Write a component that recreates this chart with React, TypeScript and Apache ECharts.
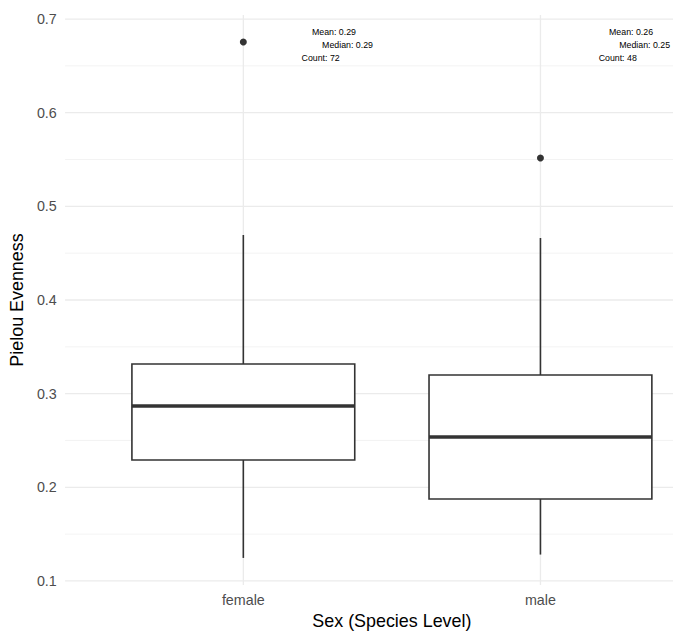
import React, { useEffect, useRef } from "react";
import * as echarts from "echarts";

// ---- data ----
const categories = ["female", "male"];
// [lower whisker, Q1, median, Q3, upper whisker]
const boxFemale = [0.1246, 0.2292, 0.2868, 0.3317, 0.4694];
const boxMale = [0.1282, 0.1876, 0.2537, 0.3199, 0.4662];
const outlierFemale = [0.6754];
const outlierMale = [0.5516];
const meanLabels = ["Mean: 0.29", "Mean: 0.26"];
const medianLabels = ["Median: 0.29", "Median: 0.25"];
const countLabels = ["Count: 72", "Count: 48"];
const yMajorTicks = [0.1, 0.2, 0.3, 0.4, 0.5, 0.6, 0.7];
const yMinorTicks = [0.15, 0.25, 0.35, 0.45, 0.55, 0.65];

const FONT = "'Liberation Sans', Arial, Helvetica, sans-serif";
const Y_MIN = 0.0957;
const Y_MAX = 0.7043;
const EXPAND = 0.6; // ggplot discrete expansion (band units)
const BOX_W = 0.75;

export default function App() {
  const ref = useRef<HTMLDivElement>(null);

  useEffect(() => {
    if (!ref.current) return;
    const chart = echarts.init(ref.current, undefined, { renderer: "svg" });

    const boxes = [boxFemale, boxMale];
    const boxData = boxes.map((b, i) => [i, ...b]);
    const outlierData: number[][] = [];
    outlierFemale.forEach((v) => outlierData.push([0, v]));
    outlierMale.forEach((v) => outlierData.push([1, v]));

    const gridData: any[] = [];
    yMajorTicks.forEach((v) => gridData.push([0, v, 1]));
    yMinorTicks.forEach((v) => gridData.push([0, v, 0]));
    categories.forEach((_, i) => gridData.push([i, Y_MIN, 2]));

    const annotData: any[] = [];
    categories.forEach((_, i) => {
      annotData.push([i + 0.305, 0.6861, meanLabels[i]]);
      annotData.push([i + 0.3507, 0.6722, medianLabels[i]]);
      annotData.push([i + 0.2601, 0.6583, countLabels[i]]);
    });

    const option: any = {
      animation: false,
      backgroundColor: "#fff",
      textStyle: { fontFamily: FONT },
      grid: { left: 93, top: 15, width: 596, bottom: 52 },
      xAxis: {
        type: "category",
        data: categories,
        boundaryGap: true,
        axisLine: { show: false },
        axisTick: { show: false },
        splitLine: { show: false },
        axisLabel: { color: "#4D4D4D", fontSize: 14.3, margin: 8, fontFamily: FONT },
        name: "Sex (Species Level)",
        nameLocation: "middle",
        nameGap: 25,
        nameTextStyle: { color: "#000", fontSize: 17.9, fontFamily: FONT },
      },
      yAxis: {
        type: "value",
        min: Y_MIN,
        max: Y_MAX,
        axisLine: { show: false },
        axisTick: { show: false },
        splitLine: { show: false },
        axisLabel: {
          color: "#4D4D4D",
          fontSize: 14.3,
          margin: 38,
          fontFamily: FONT,
          formatter: (v: number) =>
            Math.abs(v * 10 - Math.round(v * 10)) < 1e-6 ? v.toFixed(1) : "",
        },
        name: "Pielou Evenness",
        nameLocation: "middle",
        nameGap: 53,
        nameTextStyle: { color: "#000", fontSize: 17.9, fontFamily: FONT },
      },
      series: [
        {
          type: "custom",
          z: 0,
          silent: true,
          clip: false,
          data: gridData,
          encode: { x: 0, y: 1 },
          renderItem: (params: any, api: any) => {
            const kind = api.value(2);
            const band = api.size([1, 0])[0];
            const cs = params.coordSys;
            if (kind === 2) {
              const p = api.coord([api.value(0), Y_MIN]);
              return {
                type: "line",
                shape: { x1: p[0], y1: cs.y, x2: p[0], y2: cs.y + cs.height },
                style: { stroke: "#EBEBEB", lineWidth: 1.3 },
              };
            }
            const y = api.coord([0, api.value(1)])[1];
            const x1 = api.coord([0, api.value(1)])[0] - EXPAND * band;
            const x2 = api.coord([categories.length - 1, api.value(1)])[0] + EXPAND * band;
            return {
              type: "line",
              shape: { x1, y1: y, x2, y2: y },
              style: { stroke: kind === 1 ? "#EBEBEB" : "#F0F0F0", lineWidth: kind === 1 ? 1.3 : 0.8 },
            };
          },
        },
        {
          type: "custom",
          z: 2,
          data: boxData,
          encode: { x: 0, y: [1, 2, 3, 4, 5] },
          renderItem: (params: any, api: any) => {
            const i = api.value(0);
            const band = api.size([1, 0])[0];
            const half = (BOX_W * band) / 2;
            const lo = api.coord([i, api.value(1)]);
            const q1 = api.coord([i, api.value(2)]);
            const med = api.coord([i, api.value(3)]);
            const q3 = api.coord([i, api.value(4)]);
            const hi = api.coord([i, api.value(5)]);
            const cx = lo[0];
            const stroke = "#333333";
            return {
              type: "group",
              children: [
                {
                  type: "line",
                  shape: { x1: cx, y1: hi[1], x2: cx, y2: q3[1] },
                  style: { stroke, lineWidth: 1.6 },
                },
                {
                  type: "line",
                  shape: { x1: cx, y1: q1[1], x2: cx, y2: lo[1] },
                  style: { stroke, lineWidth: 1.6 },
                },
                {
                  type: "rect",
                  shape: { x: cx - half, y: q3[1], width: 2 * half, height: q1[1] - q3[1] },
                  style: { fill: "#fff", stroke, lineWidth: 1.6 },
                },
                {
                  type: "line",
                  shape: { x1: cx - half, y1: med[1], x2: cx + half, y2: med[1] },
                  style: { stroke, lineWidth: 3.4 },
                },
              ],
            };
          },
        },
        {
          type: "scatter",
          z: 3,
          data: outlierData,
          symbol: "circle",
          symbolSize: 7,
          itemStyle: { color: "#333333", opacity: 1 },
          silent: true,
        },
        {
          type: "custom",
          z: 4,
          silent: true,
          clip: false,
          data: annotData,
          encode: { y: 1 },
          renderItem: (params: any, api: any) => {
            const xv = api.value(0);
            const base = Math.floor(xv + 1e-9);
            const band = api.size([1, 0])[0];
            const p = api.coord([base, api.value(1)]);
            const x = p[0] + (xv - base) * band;
            return {
              type: "text",
              style: {
                text: annotData[params.dataIndex][2],
                x,
                y: p[1],
                fill: "#000",
                fontSize: 8.8,
                fontFamily: FONT,
                align: "center",
                verticalAlign: "middle",
              },
            };
          },
        },
      ],
    };

    chart.setOption(option);
    return () => chart.dispose();
  }, []);

  return (
    <div
      style={{
        position: "absolute",
        left: 0,
        top: 0,
        width: 673,
        height: 637,
        overflow: "hidden",
        background: "#fff",
      }}
    >
      <div ref={ref} style={{ width: 720, height: 637 }} />
    </div>
  );
}
